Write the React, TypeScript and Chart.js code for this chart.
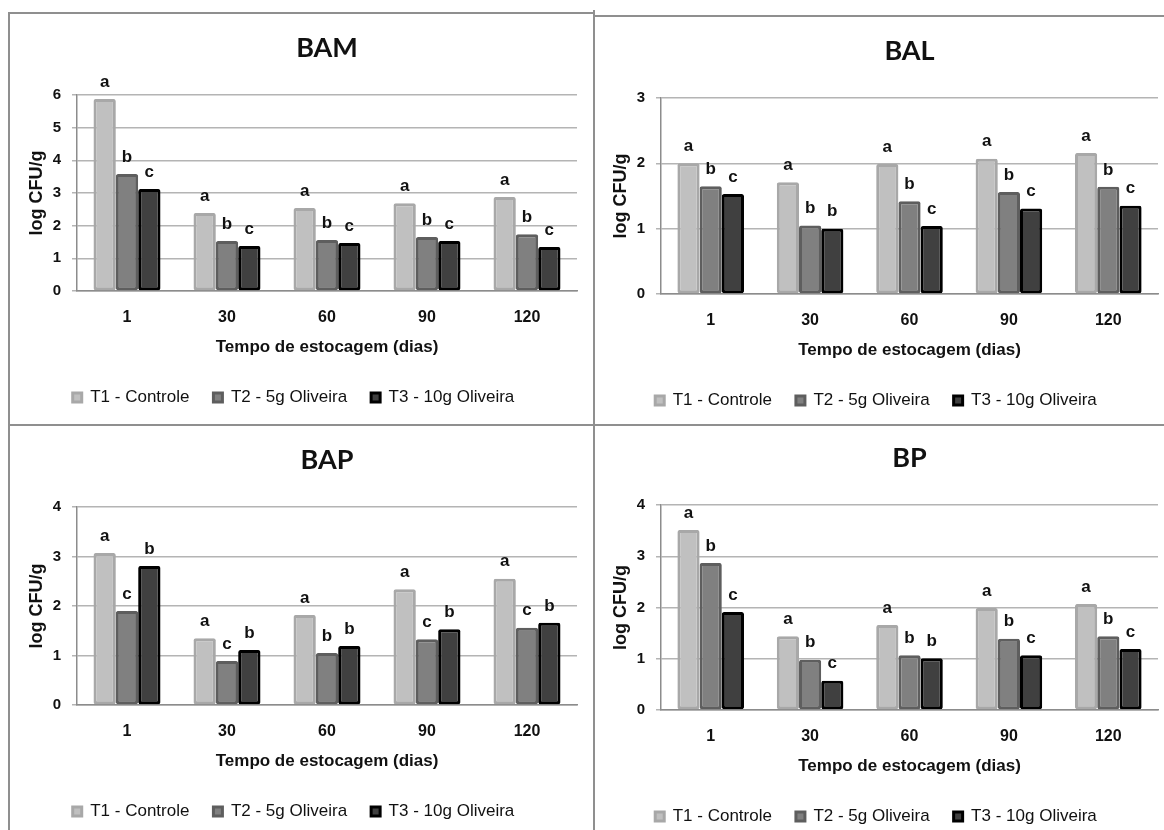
import React, { useEffect, useRef } from "react";
import { Chart, registerables } from "chart.js";

Chart.register(...registerables);

// ---------- data ----------
const categories = ["1", "30", "60", "90", "120"];
const seriesNames = ["T1 - Controle", "T2 - 5g Oliveira", "T3 - 10g Oliveira"];
const xAxisTitle = "Tempo de estocagem (dias)";
const yAxisTitle = "log CFU/g";

const bamT1 = [5.88, 2.39, 2.54, 2.69, 2.88];
const bamT2 = [3.58, 1.53, 1.56, 1.65, 1.74];
const bamT3 = [3.12, 1.38, 1.47, 1.53, 1.35];
const bamLetT1 = ["a", "a", "a", "a", "a"];
const bamLetT2 = ["b", "b", "b", "b", "b"];
const bamLetT3 = ["c", "c", "c", "c", "c"];

const balT1 = [2.0, 1.71, 1.99, 2.07, 2.16];
const balT2 = [1.65, 1.05, 1.42, 1.56, 1.64];
const balT3 = [1.53, 1.0, 1.04, 1.31, 1.35];
const balLetT1 = ["a", "a", "a", "a", "a"];
const balLetT2 = ["b", "b", "b", "b", "b"];
const balLetT3 = ["c", "b", "c", "c", "c"];

const bapT1 = [3.07, 1.35, 1.82, 2.34, 2.55];
const bapT2 = [1.9, 0.89, 1.05, 1.33, 1.56];
const bapT3 = [2.81, 1.11, 1.19, 1.53, 1.66];
const bapLetT1 = ["a", "a", "a", "a", "a"];
const bapLetT2 = ["c", "c", "b", "c", "c"];
const bapLetT3 = ["b", "b", "b", "b", "b"];

const bpT1 = [3.51, 1.44, 1.66, 1.99, 2.07];
const bpT2 = [2.87, 0.98, 1.07, 1.39, 1.44];
const bpT3 = [1.91, 0.57, 1.01, 1.07, 1.19];
const bpLetT1 = ["a", "a", "a", "a", "a"];
const bpLetT2 = ["b", "b", "b", "b", "b"];
const bpLetT3 = ["c", "c", "b", "c", "c"];

// ---------- styles ----------
const NARROW = "'Liberation Sans Narrow', 'Arial Narrow', 'Liberation Sans', sans-serif";
const SANS = "'Liberation Sans', Arial, sans-serif";
const TEXT = "#111111";
const fills = ["#c0c0c0", "#808080", "#404040"];
const strokes = ["#a8a8a8", "#5e5e5e", "#000000"];

const TOP_AREA = 80;
const X_HEIGHT = 74;
const LEGEND_FONT = 17;
const LEGEND_PAD = 24;
const LEGEND_H = LEGEND_FONT + LEGEND_PAD + 10;
const Y_WIDTH = 67;

type PanelProps = {
  title: string;
  values: number[][];
  letters: string[][];
  yMax: number;
  plotLeft: number;
  plotTop: number;
  plotW: number;
  plotH: number;
  rightPad: number;
};

const letterPlugin = {
  id: "letters",
  afterDatasetsDraw(chart: any) {
    const letters: string[][] = chart.options.plugins.letters?.letters || [];
    const ctx = chart.ctx;
    ctx.save();
    ctx.font = `bold 17px ${NARROW}`;
    ctx.fillStyle = TEXT;
    ctx.textAlign = "center";
    ctx.textBaseline = "middle";
    chart.data.datasets.forEach((_: any, i: number) => {
      const meta = chart.getDatasetMeta(i);
      meta.data.forEach((bar: any, j: number) => {
        const t = letters[i]?.[j];
        if (t) ctx.fillText(t, bar.x, bar.y - 17);
      });
    });
    ctx.restore();
  },
};

function Panel(p: PanelProps) {
  const ref = useRef<HTMLCanvasElement | null>(null);
  const cw = Y_WIDTH + p.plotW + p.rightPad;
  const ch = TOP_AREA + p.plotH + X_HEIGHT + LEGEND_H;
  useEffect(() => {
    if (!ref.current) return;
    const chart = new Chart(ref.current, {
      type: "bar",
      data: {
        labels: categories,
        datasets: p.values.map((v, i) => ({
          label: seriesNames[i],
          data: v,
          backgroundColor: fills[i],
          borderColor: strokes[i],
          borderWidth: 3,
          borderRadius: 2,
          borderSkipped: false,
          categoryPercentage: 0.67,
          barPercentage: 1.0,
        })),
      },
      options: {
        responsive: false,
        animation: false,
        devicePixelRatio: 1,
        layout: { padding: { left: 0, right: p.rightPad, top: 0, bottom: 0 } },
        scales: {
          x: {
            grid: { display: false, drawTicks: false },
            border: { display: true, color: "#8c8c8c", width: 1.5 },
            ticks: { color: TEXT, padding: 17, font: { family: NARROW, size: 16, weight: "bold" } },
            title: {
              display: true,
              text: xAxisTitle,
              color: TEXT,
              font: { family: NARROW, size: 17, weight: "bold" },
              padding: { top: 0, bottom: 7 },
            },
            afterFit: (s: any) => {
              s.height = X_HEIGHT;
            },
          },
          y: {
            min: 0,
            max: p.yMax,
            ticks: { stepSize: 1, color: TEXT, padding: 11, font: { family: SANS, size: 15, weight: "bold" } },
            grid: { color: "#b4b4b4", lineWidth: 1.5, drawTicks: true, tickLength: 5, tickColor: "#b4b4b4" },
            border: { display: true, color: "#8c8c8c", width: 1.5 },
            title: {
              display: true,
              text: yAxisTitle,
              color: TEXT,
              font: { family: SANS, size: 18, weight: "bold" },
              padding: { top: 16, bottom: 0 },
            },
            afterFit: (s: any) => {
              s.width = Y_WIDTH;
            },
          },
        },
        plugins: {
          title: {
            display: true,
            text: p.title,
            color: TEXT,
            fullSize: false,
            font: { family: "Lato, 'Open Sans', sans-serif", size: 27, weight: "bold" },
            padding: { top: 17, bottom: 30.6 },
          },
          legend: {
            display: true,
            position: "bottom",
            labels: {
              color: TEXT,
              boxWidth: 9,
              boxHeight: 9,
              padding: LEGEND_PAD,
              font: { family: NARROW, size: LEGEND_FONT },
            },
          },
          tooltip: { enabled: false },
          letters: { letters: p.letters },
        } as any,
      },
      plugins: [letterPlugin],
    });
    return () => chart.destroy();
  }, []);
  return (
    <canvas
      ref={ref}
      width={cw}
      height={ch}
      style={{
        position: "absolute",
        left: p.plotLeft - Y_WIDTH,
        top: p.plotTop - TOP_AREA,
        width: cw,
        height: ch,
      }}
    />
  );
}

const line = (left: number, top: number, width: number, height: number) => (
  <div style={{ position: "absolute", left, top, width, height, background: "#8f8f8f" }} />
);

export default function App() {
  return (
    <div
      style={{
        position: "absolute",
        left: 0,
        top: 0,
        width: 1164,
        height: 830,
        overflow: "hidden",
        background: "#ffffff",
      }}
    >
      {line(8, 12, 586, 2)}
      {line(8, 12, 2, 818)}
      {line(593, 10, 2, 820)}
      {line(8, 424, 1156, 2)}
      {line(593, 15, 571, 2)}
      <Panel
        title="BAM"
        values={[bamT1, bamT2, bamT3]}
        letters={[bamLetT1, bamLetT2, bamLetT3]}
        yMax={6}
        plotLeft={77}
        plotTop={95}
        plotW={500}
        plotH={196}
        rightPad={12}
      />
      <Panel
        title="BAL"
        values={[balT1, balT2, balT3]}
        letters={[balLetT1, balLetT2, balLetT3]}
        yMax={3}
        plotLeft={661}
        plotTop={98}
        plotW={497}
        plotH={196}
        rightPad={4}
      />
      <Panel
        title="BAP"
        values={[bapT1, bapT2, bapT3]}
        letters={[bapLetT1, bapLetT2, bapLetT3]}
        yMax={4}
        plotLeft={77}
        plotTop={507}
        plotW={500}
        plotH={198}
        rightPad={12}
      />
      <Panel
        title="BP"
        values={[bpT1, bpT2, bpT3]}
        letters={[bpLetT1, bpLetT2, bpLetT3]}
        yMax={4}
        plotLeft={661}
        plotTop={505}
        plotW={497}
        plotH={205}
        rightPad={4}
      />
    </div>
  );
}
